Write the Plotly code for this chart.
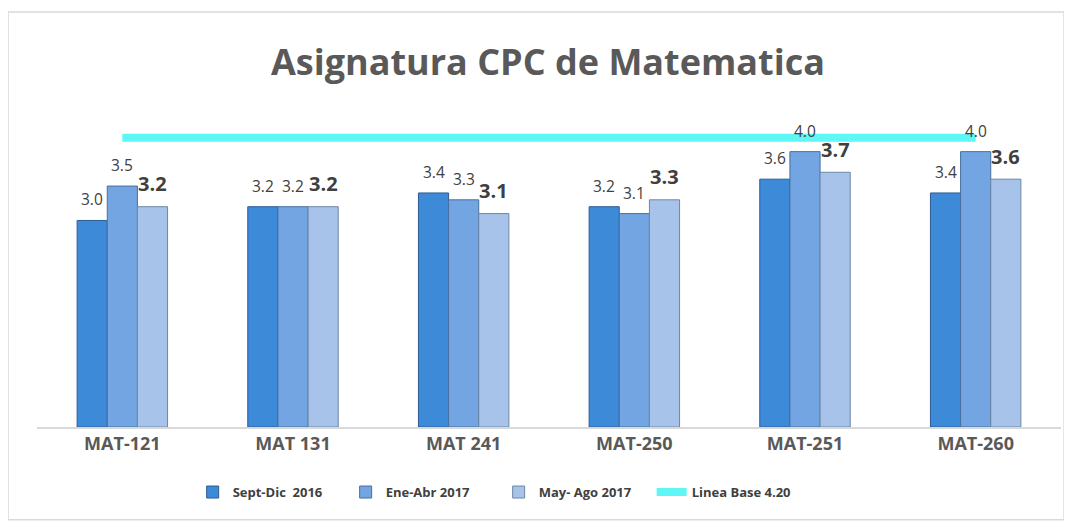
import plotly.graph_objects as go

categories = ["MAT-121", "MAT 131", "MAT 241", "MAT-250", "MAT-251", "MAT-260"]
sept_dic_2016 = [3.0, 3.2, 3.4, 3.2, 3.6, 3.4]
ene_abr_2017 = [3.5, 3.2, 3.3, 3.1, 4.0, 4.0]
may_ago_2017 = [3.2, 3.2, 3.1, 3.3, 3.7, 3.6]
linea_base = [4.2] * len(categories)

font_family = "Open Sans, Liberation Sans, Arial, sans-serif"

fig = go.Figure()
fig.add_trace(go.Bar(
    x=categories, y=sept_dic_2016, name="Sept-Dic  2016",
    marker=dict(color="#3d8ad9", line=dict(color="#2d5c92", width=1)),
))
fig.add_trace(go.Bar(
    x=categories, y=ene_abr_2017, name="Ene-Abr 2017",
    marker=dict(color="#72a5e2", line=dict(color="#46709f", width=1)),
))
fig.add_trace(go.Bar(
    x=categories, y=may_ago_2017, name="May- Ago 2017",
    marker=dict(color="#a7c3ea", line=dict(color="#6d86a8", width=1)),
))
fig.add_trace(go.Scatter(
    x=categories, y=linea_base, name="Linea Base 4.20", mode="lines",
    line=dict(color="#5ef7f5", width=8), cliponaxis=False,
))

# data labels (drawn above the base line, as in the original)
bar_step = 1024 / len(categories) * (1 - 0.47) / 3
annotations = []
for values, shift, size, bold in [
    (sept_dic_2016, -bar_step, 15.5, False),
    (ene_abr_2017, 0, 15.5, False),
    (may_ago_2017, bar_step, 20, True),
]:
    for cat, v in zip(categories, values):
        annotations.append(dict(
            x=cat, y=v, xref="x", yref="y", text=f"{v:.1f}", showarrow=False,
            xshift=shift, yshift=23 if bold else 21, yanchor="middle",
            font=dict(family=font_family, size=size, color="#404040",
                      weight="bold" if bold else "normal"),
        ))

fig.update_layout(
    width=1064, height=524,
    paper_bgcolor="white", plot_bgcolor="white",
    margin=dict(l=29, r=11, t=92, b=105, autoexpand=False),
    barmode="group", bargap=0.47, bargroupgap=0,
    title=dict(text="<b>Asignatura CPC de Matematica</b>", x=0.5075, xanchor="center",
               y=0.897, yanchor="middle",
               font=dict(family=font_family, size=36, color="#595959")),
    font=dict(family=font_family, color="#595959"),
    xaxis=dict(showline=True, linecolor="#d9d9d9", linewidth=1.5, ticks="",
               tickfont=dict(size=18, color="#595959", weight="bold"),
               showgrid=False),
    yaxis=dict(range=[0, 4.75], visible=False, showgrid=False, zeroline=False),
    legend=dict(orientation="h", x=0.152, xanchor="left", y=-0.199, yanchor="middle",
                font=dict(size=13, color="#404040", weight="bold"),
                itemwidth=30, entrywidth=108, entrywidthmode="pixels",
                traceorder="normal"),
    annotations=annotations,
    shapes=[dict(type="rect", xref="paper", yref="paper",
                 x0=-0.0283, x1=1.003, y0=-0.284, y1=1.269,
                 line=dict(color="#d9d9d9", width=1.5), fillcolor="rgba(0,0,0,0)",
                 layer="below")],
)

fig.write_html("out.html")
